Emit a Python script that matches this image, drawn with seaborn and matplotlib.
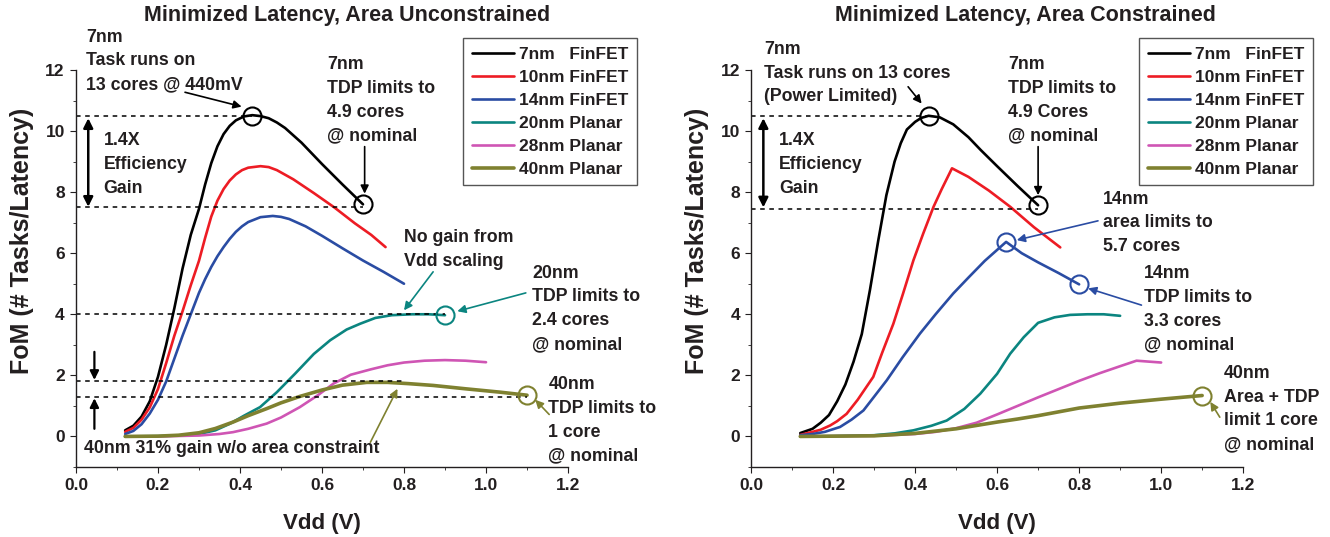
import numpy as np
import pandas as pd
import matplotlib
matplotlib.use("Agg")
import matplotlib.pyplot as plt
import seaborn as sns
from matplotlib.ticker import MultipleLocator

# --- data ------------------------------------------------------------------
nodes = ["7nm   FinFET", "10nm FinFET", "14nm FinFET",
         "20nm Planar", "28nm Planar", "40nm Planar"]
node_colors = ["#000000", "#ed1c24", "#2a4ca3", "#0b8580", "#cf55b4", "#7f8130"]

# area unconstrained (left panel)
unc_vdd_7 = [0.12, 0.14, 0.16, 0.18, 0.20, 0.22, 0.24, 0.26, 0.28, 0.30, 0.315, 0.33,
             0.345, 0.36, 0.375, 0.39, 0.41, 0.43, 0.45, 0.47, 0.49, 0.51, 0.55, 0.60,
             0.65, 0.70]
unc_fom_7 = [0.2, 0.35, 0.65, 1.15, 1.95, 3.0, 4.2, 5.5, 6.6, 7.45, 8.25, 8.95,
             9.5, 9.9, 10.17, 10.35, 10.48, 10.52, 10.49, 10.42, 10.28, 10.1, 9.62, 8.92,
             8.25, 7.6]
unc_vdd_10 = [0.12, 0.14, 0.16, 0.18, 0.20, 0.22, 0.24, 0.26, 0.28, 0.30, 0.315, 0.33,
              0.345, 0.36, 0.375, 0.39, 0.405, 0.42, 0.45, 0.47, 0.49, 0.53, 0.58, 0.63,
              0.68, 0.72, 0.755]
unc_fom_10 = [0.15, 0.28, 0.55, 0.95, 1.55, 2.4, 3.3, 4.1, 4.95, 5.75, 6.5, 7.2,
              7.72, 8.1, 8.38, 8.58, 8.72, 8.8, 8.85, 8.82, 8.72, 8.42, 7.97, 7.5,
              6.98, 6.6, 6.2]
unc_vdd_14 = [0.12, 0.14, 0.16, 0.18, 0.20, 0.22, 0.24, 0.26, 0.28, 0.30, 0.315, 0.33,
              0.345, 0.36, 0.375, 0.39, 0.405, 0.42, 0.45, 0.48, 0.50, 0.52, 0.56, 0.60,
              0.65, 0.70, 0.75, 0.80]
unc_fom_14 = [0.08, 0.18, 0.4, 0.75, 1.2, 1.8, 2.55, 3.3, 4.0, 4.7, 5.15, 5.55,
              5.9, 6.2, 6.47, 6.7, 6.88, 7.02, 7.18, 7.22, 7.19, 7.12, 6.88, 6.57,
              6.16, 5.76, 5.39, 5.0]
unc_vdd_20 = [0.12, 0.20, 0.25, 0.30, 0.34, 0.376, 0.41, 0.449, 0.49, 0.534, 0.58, 0.62,
              0.66, 0.693, 0.73, 0.77, 0.82, 0.86, 0.90]
unc_fom_20 = [0.0, 0.01, 0.03, 0.08, 0.2, 0.42, 0.68, 0.96, 1.45, 2.05, 2.7, 3.15,
              3.5, 3.69, 3.88, 3.97, 4.0, 4.0, 3.97]
unc_vdd_28 = [0.12, 0.20, 0.30, 0.35, 0.383, 0.42, 0.465, 0.50, 0.546, 0.59, 0.628, 0.67,
              0.72, 0.76, 0.80, 0.85, 0.90, 0.95, 1.00]
unc_fom_28 = [0.0, 0.0, 0.03, 0.08, 0.14, 0.25, 0.42, 0.62, 0.96, 1.35, 1.73, 2.02,
              2.2, 2.33, 2.42, 2.48, 2.5, 2.48, 2.43]
unc_vdd_40 = [0.12, 0.20, 0.25, 0.30, 0.34, 0.383, 0.42, 0.465, 0.50, 0.546, 0.60, 0.65,
              0.709, 0.76, 0.81, 0.871, 0.95, 1.034, 1.10]
unc_fom_40 = [0.0, 0.01, 0.04, 0.12, 0.26, 0.47, 0.68, 0.91, 1.1, 1.31, 1.52, 1.68,
              1.77, 1.77, 1.73, 1.67, 1.56, 1.45, 1.35]

# area constrained (right panel)
con_vdd_7 = [0.12, 0.15, 0.17, 0.19, 0.21, 0.23, 0.25, 0.27, 0.29, 0.31, 0.33, 0.35,
             0.365, 0.38, 0.40, 0.415, 0.433, 0.46, 0.493, 0.53, 0.56, 0.60, 0.65, 0.70]
con_fom_7 = [0.11, 0.25, 0.45, 0.7, 1.15, 1.7, 2.45, 3.35, 4.8, 6.4, 7.9, 9.0,
             9.6, 10.05, 10.3, 10.43, 10.5, 10.45, 10.22, 9.8, 9.38, 8.85, 8.2, 7.57]
con_vdd_10 = [0.12, 0.15, 0.17, 0.193, 0.21, 0.233, 0.26, 0.298, 0.32, 0.347, 0.37, 0.396,
              0.42, 0.445, 0.465, 0.49, 0.53, 0.58, 0.632, 0.69, 0.754]
con_fom_10 = [0.05, 0.15, 0.22, 0.36, 0.5, 0.74, 1.2, 1.95, 2.75, 3.69, 4.65, 5.77,
              6.65, 7.52, 8.1, 8.78, 8.5, 8.05, 7.52, 6.85, 6.19]
con_vdd_14 = [0.12, 0.15, 0.18, 0.217, 0.245, 0.274, 0.30, 0.331, 0.37, 0.412, 0.45, 0.493,
              0.53, 0.57, 0.622, 0.66, 0.70, 0.75, 0.80]
con_fom_14 = [0.04, 0.08, 0.15, 0.31, 0.55, 0.85, 1.3, 1.84, 2.6, 3.37, 4.0, 4.68,
              5.2, 5.75, 6.37, 6.0, 5.7, 5.35, 4.98]
con_vdd_20 = [0.12, 0.20, 0.30, 0.35, 0.396, 0.44, 0.477, 0.52, 0.559, 0.60, 0.632, 0.665,
              0.70, 0.74, 0.778, 0.82, 0.86, 0.90]
con_fom_20 = [0.0, 0.01, 0.04, 0.1, 0.2, 0.35, 0.52, 0.9, 1.4, 2.05, 2.71, 3.25,
              3.72, 3.9, 3.98, 4.0, 4.0, 3.95]
con_vdd_28 = [0.12, 0.30, 0.40, 0.45, 0.50, 0.55, 0.60, 0.65, 0.70, 0.75, 0.80, 0.85,
              0.90, 0.94, 0.97, 1.00]
con_fom_28 = [0.0, 0.02, 0.08, 0.15, 0.27, 0.45, 0.72, 1.0, 1.28, 1.55, 1.82, 2.07,
              2.3, 2.48, 2.45, 2.42]
con_vdd_40 = [0.12, 0.30, 0.40, 0.50, 0.60, 0.65, 0.70, 0.80, 0.90, 1.00, 1.10]
con_fom_40 = [0.0, 0.02, 0.1, 0.25, 0.47, 0.57, 0.68, 0.93, 1.09, 1.22, 1.34]

TEXT = "#231f20"


def build_frame(vdds, foms):
    parts = []
    for name, v, f in zip(nodes, vdds, foms):
        parts.append(pd.DataFrame({"vdd": v, "fom": f, "node": name}))
    return pd.concat(parts, ignore_index=True)


unc_df = build_frame([unc_vdd_7, unc_vdd_10, unc_vdd_14, unc_vdd_20, unc_vdd_28, unc_vdd_40],
                     [unc_fom_7, unc_fom_10, unc_fom_14, unc_fom_20, unc_fom_28, unc_fom_40])
con_df = build_frame([con_vdd_7, con_vdd_10, con_vdd_14, con_vdd_20, con_vdd_28, con_vdd_40],
                     [con_fom_7, con_fom_10, con_fom_14, con_fom_20, con_fom_28, con_fom_40])

sns.set_style("ticks")
plt.rcParams["font.family"] = ["Liberation Sans", "DejaVu Sans"]
plt.rcParams.update({
    "font.weight": "bold",
    "axes.labelweight": "bold",
    "axes.linewidth": 1.0,
    "axes.edgecolor": TEXT,
    "xtick.color": TEXT, "ytick.color": TEXT,
    "xtick.major.size": 4.5, "ytick.major.size": 4.5,
    "xtick.minor.size": 2.5, "ytick.minor.size": 2.5,
    "xtick.minor.visible": True, "ytick.minor.visible": True,
    "xtick.labelsize": 12.5, "ytick.labelsize": 12.5,
})

fig = plt.figure(figsize=(13.3, 5.37), dpi=100)
ax_l = fig.add_axes([0.0571, 0.1304, 0.37, 0.7393])
ax_r = fig.add_axes([0.5647, 0.1304, 0.37, 0.7393])


def draw_panel(ax, df, legend_right):
    sns.lineplot(data=df, x="vdd", y="fom", hue="node", hue_order=nodes,
                 palette=node_colors, estimator=None, sort=False, legend=False,
                 linewidth=1.9, ax=ax)
    ax.lines[5].set_linewidth(2.6)
    ax.set_xlim(0, 1.2)
    ax.set_ylim(-1, 12)
    ax.xaxis.set_major_locator(MultipleLocator(0.2))
    ax.xaxis.set_minor_locator(MultipleLocator(0.1))
    ax.yaxis.set_major_locator(MultipleLocator(2))
    ax.yaxis.set_minor_locator(MultipleLocator(1))
    ax.set_xticks(np.arange(0, 1.21, 0.2), [f"{t:.1f}" for t in np.arange(0, 1.21, 0.2)])
    sns.despine(ax=ax)
    for lab in ax.get_xticklabels() + ax.get_yticklabels():
        lab.set_fontweight("bold")
    ax.set_xlabel("Vdd (V)", fontsize=16, color=TEXT, labelpad=14)
    ax.set_ylabel("FoM (# Tasks/Latency)", fontsize=18, color=TEXT)
    ax.yaxis.set_label_coords(-0.086, 0.57)
    leg = ax.legend(handles=ax.lines[:6], labels=nodes, loc="upper right",
                    bbox_to_anchor=(legend_right, 1 - 38 / 537),
                    bbox_transform=fig.transFigure, borderaxespad=0,
                    fancybox=False, framealpha=1, edgecolor="#555555",
                    prop={"weight": "bold", "size": 12.5}, handlelength=2.4,
                    handletextpad=0.3, labelspacing=0.45, borderpad=0.5)
    leg.get_frame().set_linewidth(1.0)
    for t in leg.get_texts():
        t.set_color(TEXT)


def note(ax, x, y, s, **kw):
    ax.text(x, y, s, fontsize=12.8, fontweight="bold", color=TEXT, linespacing=1.52,
            ha="left", va="center", clip_on=False, **kw)


def arrow(ax, xy_from, xy_to, color, style="-|>", lw=1.2, scale=12):
    ax.annotate("", xy=xy_to, xytext=xy_from,
                arrowprops=dict(arrowstyle=style, color=color, lw=lw,
                                mutation_scale=scale, shrinkA=0, shrinkB=0),
                annotation_clip=False)


def dashed(ax, y, x_end):
    ax.plot([0, x_end], [y, y], ls=(0, (3, 3)), color="black", lw=1.1)


def ring(ax, x, y, color):
    ax.plot([x], [y], marker="o", ms=13, mfc="none", mec=color, mew=1.5,
            clip_on=False)


draw_panel(ax_l, unc_df, 637 / 1330)
draw_panel(ax_r, con_df, 1313 / 1330)

fig.text(347 / 1330, 1 - 15 / 537, "Minimized Latency, Area Unconstrained",
         ha="center", va="center", fontsize=15.5, fontweight="bold", color=TEXT)
fig.text(1025 / 1330, 1 - 16 / 537, "Minimized Latency, Area Constrained",
         ha="center", va="center", fontsize=15.5, fontweight="bold", color=TEXT)

# left panel annotations
blk, red, blu, teal, mag, olv = node_colors
dashed(ax_l, 10.5, 0.43)
dashed(ax_l, 7.5, 0.70)
dashed(ax_l, 4.0, 0.90)
dashed(ax_l, 1.8, 0.80)
dashed(ax_l, 1.3, 1.10)
ring(ax_l, 0.43, 10.5, blk)
ring(ax_l, 0.70, 7.6, blk)
ring(ax_l, 0.90, 3.97, teal)
ring(ax_l, 1.10, 1.35, olv)
note(ax_l, 0.024, 12.3, "7nm\nTask runs on\n13 cores @ 440mV")
note(ax_l, 0.612, 11.0, "7nm\nTDP limits to\n4.9 cores\n@ nominal")
note(ax_l, 0.067, 8.9, "1.4X\nEfficiency\nGain")
note(ax_l, 0.80, 6.13, "No gain from\nVdd scaling")
note(ax_l, 1.113, 4.18, "20nm\nTDP limits to\n2.4 cores\n@ nominal")
note(ax_l, 1.152, 0.52, "40nm\nTDP limits to\n1 core\n@ nominal")
note(ax_l, 0.02, -0.4, "40nm 31% gain w/o area constraint")
arrow(ax_l, (0.266, 11.27), (0.404, 10.8), blk)
arrow(ax_l, (0.704, 9.49), (0.704, 7.95), blk)
arrow(ax_l, (0.03, 10.42), (0.03, 7.52), blk, style="<|-|>", lw=1.8, scale=14)
arrow(ax_l, (0.045, 2.77), (0.045, 1.85), blk, lw=1.6, scale=13)
arrow(ax_l, (0.045, 0.25), (0.045, 1.25), blk, lw=1.6, scale=13)
arrow(ax_l, (0.871, 5.39), (0.80, 4.13), teal)
arrow(ax_l, (1.097, 4.7), (0.93, 4.1), teal)
arrow(ax_l, (1.154, 0.72), (1.12, 1.2), olv)
arrow(ax_l, (0.718, -0.19), (0.784, 1.56), olv)

# right panel annotations
dashed(ax_r, 10.5, 0.43)
dashed(ax_r, 7.45, 0.70)
ring(ax_r, 0.433, 10.5, blk)
ring(ax_r, 0.70, 7.57, blk)
ring(ax_r, 0.622, 6.37, blu)
ring(ax_r, 0.80, 5.0, blu)
ring(ax_r, 1.10, 1.34, olv)
note(ax_r, 0.032, 11.9, "7nm\nTask runs on 13 cores\n(Power Limited)")
note(ax_r, 0.627, 11.0, "7nm\nTDP limits to\n4.9 Cores\n@ nominal")
note(ax_r, 0.068, 8.9, "1.4X\nEfficiency\nGain")
note(ax_r, 0.858, 6.99, "14nm\narea limits to\n5.7 cores")
note(ax_r, 0.957, 4.16, "14nm\nTDP limits to\n3.3 cores\n@ nominal")
note(ax_r, 1.153, 0.9, "40nm\nArea + TDP\nlimit 1 core\n@ nominal")
arrow(ax_r, (0.383, 11.45), (0.416, 10.9), blk)
arrow(ax_r, (0.70, 9.49), (0.70, 7.9), blk)
arrow(ax_r, (0.03, 10.42), (0.03, 7.5), blk, style="<|-|>", lw=1.8, scale=14)
arrow(ax_r, (0.846, 7.06), (0.648, 6.43), blu)
arrow(ax_r, (0.952, 4.3), (0.822, 4.85), blu)
arrow(ax_r, (1.143, 0.63), (1.12, 1.13), olv)

fig.savefig("out.png", dpi=100)
